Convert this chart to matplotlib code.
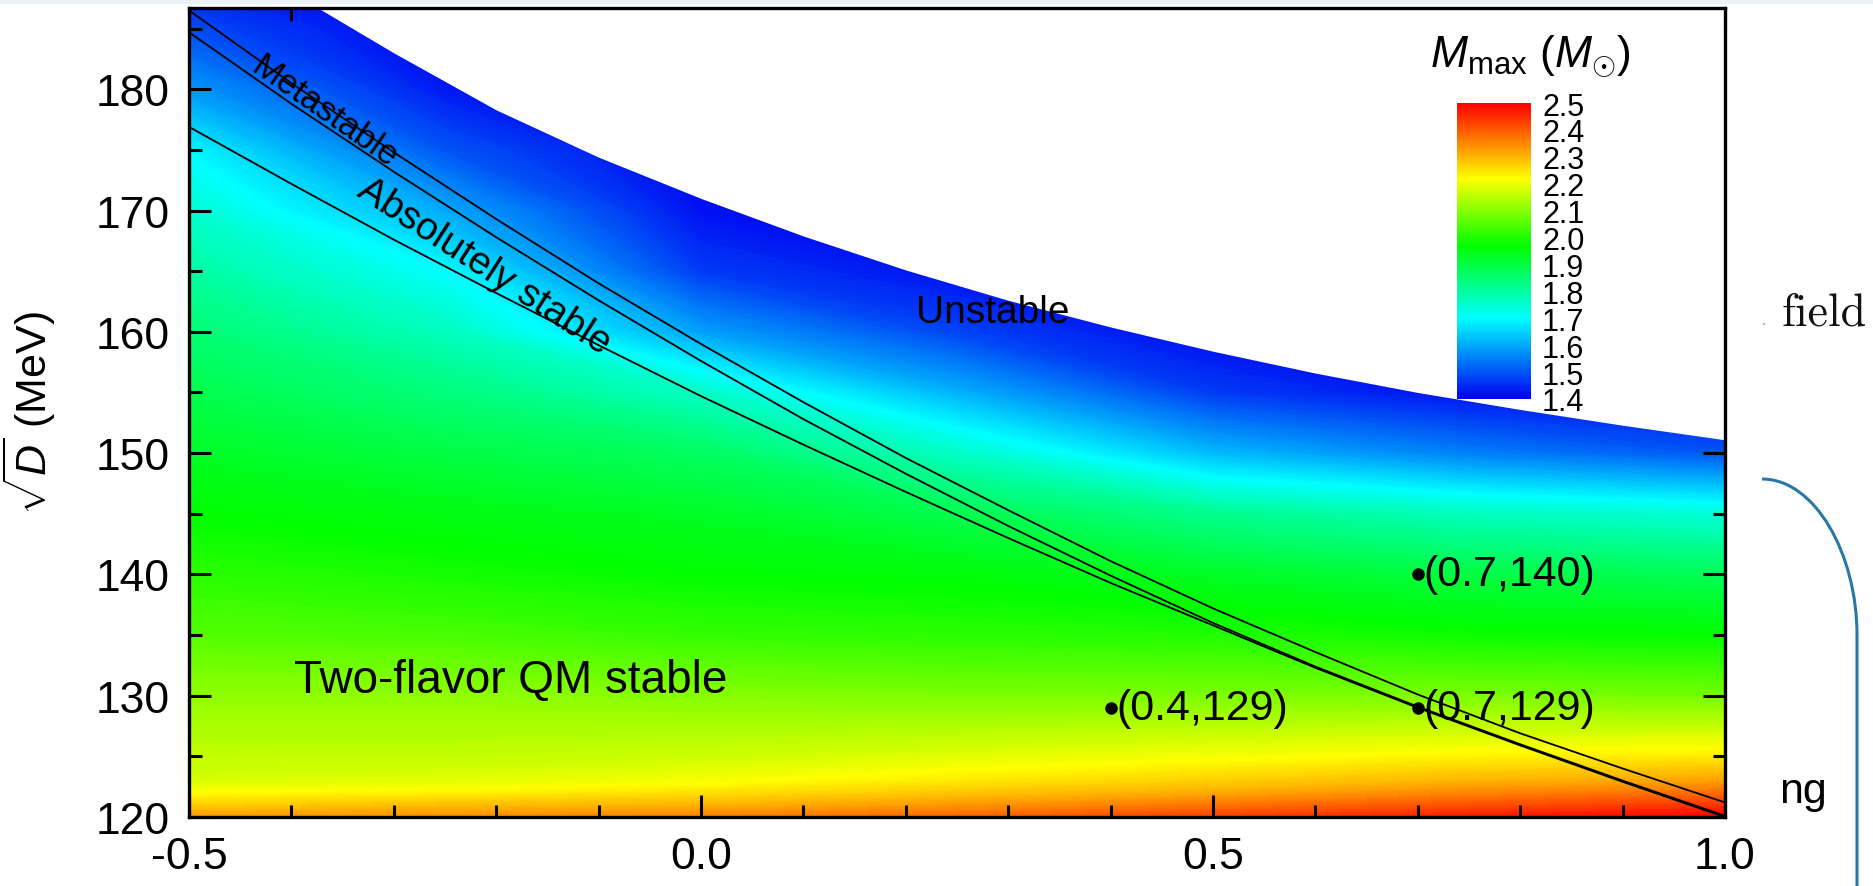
import numpy as np
import matplotlib
matplotlib.use("Agg")
import matplotlib.pyplot as plt
from matplotlib.colors import LinearSegmentedColormap, Normalize
from matplotlib.cm import ScalarMappable
from matplotlib.path import Path
from matplotlib.patches import PathPatch, Rectangle
from matplotlib.ticker import MultipleLocator

plt.rcParams['font.family'] = ['Liberation Sans', 'DejaVu Sans']
plt.rcParams['mathtext.fontset'] = 'custom'
plt.rcParams['mathtext.rm'] = 'Liberation Sans'
plt.rcParams['mathtext.it'] = 'Liberation Sans:italic'
plt.rcParams['mathtext.bf'] = 'Liberation Sans:bold'

# ---- maximum mass of the star on the (x, sqrt(D)) plane ----
x_grid = [-0.5, -0.25, 0.0, 0.25, 0.5, 0.75, 1.0]
d_grid = [120, 121, 122, 123, 125, 130, 135, 140, 145, 150, 155, 160,
          165, 170, 175, 180, 185, 188]
m_max = [
    [2.33, 2.34, 2.36, 2.39, 2.43, 2.47, 2.50],  # 120
    [2.27, 2.29, 2.30, 2.33, 2.37, 2.41, 2.44],  # 121
    [2.22, 2.23, 2.25, 2.28, 2.31, 2.35, 2.38],  # 122
    [2.18, 2.19, 2.21, 2.24, 2.27, 2.30, 2.32],  # 123
    [2.16, 2.16, 2.17, 2.19, 2.21, 2.23, 2.24],  # 125
    [2.11, 2.11, 2.10, 2.09, 2.09, 2.09, 2.08],  # 130
    [2.05, 2.04, 2.02, 2.01, 2.00, 1.98, 1.97],  # 135
    [2.01, 1.99, 1.97, 1.96, 1.93, 1.90, 1.88],  # 140
    [1.97, 1.95, 1.93, 1.89, 1.82, 1.77, 1.74],  # 145
    [1.93, 1.90, 1.87, 1.76, 1.62, 1.55, 1.50],  # 150
    [1.89, 1.84, 1.76, 1.61, 1.47, 1.42, 1.40],  # 155
    [1.85, 1.77, 1.59, 1.48, 1.41, 1.40, 1.40],  # 160
    [1.80, 1.70, 1.47, 1.42, 1.40, 1.40, 1.40],  # 165
    [1.75, 1.60, 1.42, 1.40, 1.40, 1.40, 1.40],  # 170
    [1.69, 1.50, 1.40, 1.40, 1.40, 1.40, 1.40],  # 175
    [1.58, 1.43, 1.40, 1.40, 1.40, 1.40, 1.40],  # 180
    [1.49, 1.40, 1.40, 1.40, 1.40, 1.40, 1.40],  # 185
    [1.45, 1.40, 1.40, 1.40, 1.40, 1.40, 1.40],  # 188
]

# stability border (above it the star is unstable)
border_x = [-0.5, -0.4, -0.3, -0.2, -0.1, 0.0, 0.1, 0.2, 0.3, 0.4, 0.5,
            0.6, 0.7, 0.8, 0.9, 1.0]
border_d = [194.0, 188.0, 183.0, 178.3, 174.4, 171.0, 167.9, 165.1, 162.6,
            160.4, 158.4, 156.6, 155.0, 153.6, 152.3, 151.1]

# phase boundary lines
line_x = [-0.5, -0.4, -0.3, -0.2, -0.1, 0.0, 0.1, 0.2, 0.3, 0.4, 0.5,
          0.6, 0.7, 0.8, 0.9, 1.0]
line_upper = [186.5, 180.5, 174.8, 169.3, 164.0, 159.0, 154.2, 149.6, 145.3,
              141.1, 137.2, 133.6, 130.1, 126.9, 124.0, 121.2]
line_middle = [184.7, 178.8, 173.2, 167.8, 162.6, 157.6, 152.8, 148.3, 144.0,
               139.9, 136.0, 132.4, 129.1, 126.0, 123.0, 120.1]
line_lower = [176.9, 172.2, 167.6, 163.2, 158.9, 154.7, 150.7, 146.8, 143.0,
              139.3, 135.8, 132.3, 129.0, 125.9, 122.9, 120.0]

# selected parameter sets
pt_x = [0.4, 0.7, 0.7]
pt_d = [129, 129, 140]

cbar_ticks = [1.4, 1.5, 1.6, 1.7, 1.8, 1.9, 2.0, 2.1, 2.2, 2.3, 2.4, 2.5]

W, H = 1874, 887
fig = plt.figure(figsize=(W / 100, H / 100), dpi=100)


def fx(px):
    return px / W


def fy(py):
    return 1 - py / H


ax = fig.add_axes([fx(189), fy(818), fx(1725) - fx(189), fy(9) - fy(818)])

# Origin-like rainbow palette
vmin, vmax = 1.4, 2.5
nodes = [(1.40, (0.0, 0.0, 0.95)), (1.70, (0.0, 1.0, 1.0)),
         (1.97, (0.0, 1.0, 0.0)), (2.22, (1.0, 1.0, 0.0)),
         (2.50, (1.0, 0.0, 0.0))]
cmap = LinearSegmentedColormap.from_list(
    'rainbow_origin', [((v - vmin) / (vmax - vmin), c) for v, c in nodes])
norm = Normalize(vmin, vmax)

ax.contourf(x_grid, d_grid, np.array(m_max), levels=np.linspace(vmin, vmax, 221),
            cmap=cmap, norm=norm, extend='both', antialiased=False, zorder=1)
ax.fill_between(border_x, border_d, 200, color='white', lw=0, zorder=2)

for ys in (line_upper, line_middle, line_lower):
    ax.plot(line_x, ys, color='black', lw=1.3, zorder=3)

ax.plot(pt_x, pt_d, 'o', color='black', ms=8, zorder=4)
for x, d in zip(pt_x, pt_d):
    ax.annotate(f"({x},{d})", (x, d), xytext=(4, 0), textcoords='offset points',
                ha='left', va='center', fontsize=31, zorder=5)

ax.text(0.285, 161.6, 'Unstable', fontsize=28, ha='center', va='center', zorder=5)
ax.text(-0.186, 131.3, 'Two-flavor QM stable', fontsize=33, ha='center',
        va='center', zorder=5)
ax.text(-0.368, 178.2, 'Metastable', fontsize=25, rotation=-35,
        rotation_mode='anchor', ha='center', va='center', zorder=5)
ax.text(-0.212, 165.4, 'Absolutely stable', fontsize=28, rotation=-33,
        rotation_mode='anchor', ha='center', va='center', zorder=5)

ax.set_xlim(-0.5, 1.0)
ax.set_ylim(120, 186.7)
ax.xaxis.set_major_locator(MultipleLocator(0.5))
ax.xaxis.set_minor_locator(MultipleLocator(0.1))
ax.yaxis.set_major_locator(MultipleLocator(10))
ax.yaxis.set_minor_locator(MultipleLocator(5))
ax.xaxis.set_major_formatter(plt.FuncFormatter(lambda v, p: f"{v:.1f}"))
ax.tick_params(which='both', direction='in', top=True, right=True, width=2.2,
               labelsize=32)
ax.tick_params(which='major', length=16)
ax.tick_params(which='minor', length=9)
ax.tick_params(axis='x', pad=14)
ax.tick_params(axis='y', pad=14)
for s in ax.spines.values():
    s.set_linewidth(2.4)
    s.set_zorder(6)

ax.set_ylabel(r'$\sqrt{D}$ (MeV)', fontsize=31)
ax.yaxis.set_label_coords((58 - 189) / 1536, 0.5)

# colour bar
cax = fig.add_axes([fx(1457), fy(400), fx(1531) - fx(1457), fy(104) - fy(400)])
cb = fig.colorbar(ScalarMappable(norm=norm, cmap=cmap), cax=cax, ticks=cbar_ticks)
cb.outline.set_visible(False)
cb.ax.tick_params(length=0, pad=8, labelsize=22)
cb.ax.set_yticklabels([f"{t:.1f}" for t in cbar_ticks])
fig.text(fx(1430), fy(68), r'$M_{\mathrm{max}}$ ($M_{\odot}$)', fontsize=32,
         ha='left', va='baseline')

# surrounding page fragments
fig.patches.append(Rectangle((0, fy(5)), 1, 1 - fy(5), transform=fig.transFigure,
                             color='#edf2f8', lw=0, zorder=0))
fig.text(fx(1782), fy(325), 'field', family='cmr10', fontsize=33, ha='left',
         va='baseline', color='#111111')
fig.text(fx(1762), fy(325), '.', fontsize=10, color='#7a8a9a', ha='left',
         va='baseline')
fig.text(fx(1779), fy(792), 'ng', fontsize=31, ha='left', va='center')
bracket = Path([(fx(1762), fy(480)), (fx(1815), fy(480)), (fx(1857), fy(555)),
                (fx(1857), fy(636)), (fx(1857), fy(900))],
               [Path.MOVETO, Path.CURVE4, Path.CURVE4, Path.CURVE4, Path.LINETO])
fig.patches.append(PathPatch(bracket, transform=fig.transFigure, fill=False,
                             edgecolor='#2778a8', lw=2.2))

fig.savefig('out.png', dpi=100)
